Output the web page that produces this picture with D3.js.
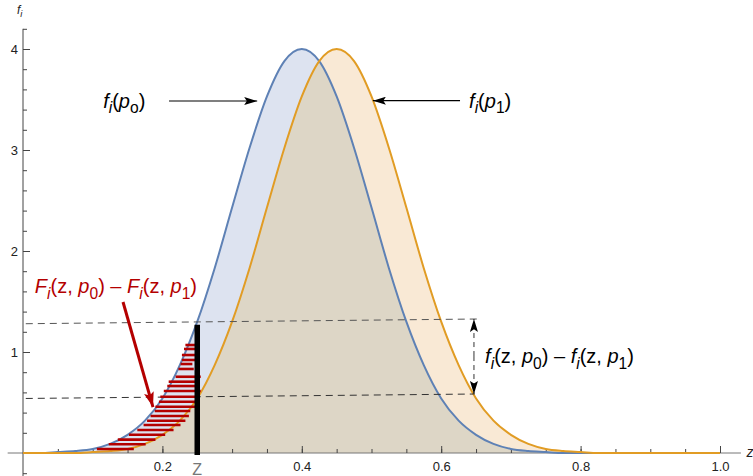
<!DOCTYPE html>
<html>
<head>
<meta charset="utf-8">
<script src="https://cdn.jsdelivr.net/npm/d3@7"></script>
<style>
  body { margin: 0; background: #fff; }
  text { font-family: "Liberation Sans", Arial, sans-serif; white-space: pre; }
</style>
</head>
<body>
<script>
// sample points
var zValues = [0, 0.025, 0.05, 0.075, 0.1, 0.125, 0.15, 0.175, 0.2, 0.225, 0.25, 0.275, 0.3, 0.325,
  0.35, 0.375, 0.4, 0.425, 0.45, 0.475, 0.5, 0.525, 0.55, 0.575, 0.6, 0.625, 0.65, 0.675, 0.7,
  0.725, 0.75, 0.775, 0.8, 0.825, 0.85, 0.875, 0.9, 0.925, 0.95, 0.975, 1];
var f0Values = [0, 0, 0.01, 0.02, 0.04, 0.09, 0.18, 0.32, 0.54, 0.87, 1.30, 1.83, 2.43, 3.02,
  3.53, 3.88, 4.00, 3.88, 3.53, 3.02, 2.43, 1.83, 1.30, 0.87, 0.54, 0.32, 0.18, 0.09, 0.04,
  0.02, 0.01, 0, 0, 0, 0, 0, 0, 0, 0, 0, 0];
var f1Values = [0, 0, 0, 0, 0.01, 0.02, 0.04, 0.09, 0.18, 0.32, 0.54, 0.87, 1.30, 1.83,
  2.43, 3.02, 3.53, 3.88, 4.00, 3.88, 3.53, 3.02, 2.43, 1.83, 1.30, 0.87, 0.54, 0.32, 0.18,
  0.09, 0.04, 0.02, 0.01, 0, 0, 0, 0, 0, 0, 0, 0];

var xMajorTicks = [0.2, 0.4, 0.6, 0.8, 1.0];
var xMinorTicks = d3.range(1, 21).map(function(i) { return i * 0.05; });
var yMajorTicks = [1, 2, 3, 4];
var yMinorTicks = d3.range(-1, 22).map(function(i) { return i * 0.2; });

// hand drawn hatching: [f level, z start, z end]
var hatchLevels = [0.040, 0.086, 0.132, 0.181, 0.228, 0.277, 0.320, 0.366, 0.416, 0.458, 0.508,
  0.557, 0.614, 0.663, 0.706, 0.755, 0.832, 0.881, 0.921, 0.970, 1.030, 1.069];
var hatchStart = [0.106, 0.123, 0.136, 0.152, 0.164, 0.173, 0.178, 0.183, 0.189, 0.190, 0.195,
  0.197, 0.202, 0.207, 0.209, 0.219, 0.223, 0.226, 0.228, 0.228, 0.231, 0.233];
var hatchEnd = [0.159, 0.176, 0.190, 0.204, 0.216, 0.226, 0.233, 0.238, 0.240, 0.247, 0.250,
  0.252, 0.255, 0.252, 0.247, 0.255, 0.245, 0.243, 0.250, 0.247, 0.247, 0.247];

var zCut = 0.25;

d3.select("body").append("svg")
  .attr("width", 753)
  .attr("height", 476);

var svg = d3.select("svg"),
  margin = {
    top: 49,
    right: 33,
    bottom: 23,
    left: 23
  },
  width = +svg.attr("width") - margin.left - margin.right,
  height = +svg.attr("height") - margin.top - margin.bottom,
  g = svg.append("g").attr("transform", "translate(" + margin.left + "," + margin.top + ")");

var x = d3.scaleLinear().domain([0, 1]).range([0, width]);
var y = d3.scaleLinear().domain([0, 4]).range([height, 0]);

var blue = "#5e81b5", orange = "#e19c24", red = "#b40000";

var defs = svg.append("defs");
function marker(id, color, len, wid) {
  defs.append("marker")
    .attr("id", id)
    .attr("markerUnits", "userSpaceOnUse")
    .attr("viewBox", "0 0 " + len + " " + wid)
    .attr("refX", len).attr("refY", wid / 2)
    .attr("markerWidth", len).attr("markerHeight", wid)
    .attr("orient", "auto-start-reverse")
    .append("path")
    .attr("d", "M0,0L" + len + "," + (wid / 2) + "L0," + wid + "L" + (len * 0.2) + "," + (wid / 2) + "Z")
    .attr("fill", color);
}
marker("arrowBlack", "#000", 13, 8);
marker("arrowRed", red, 15, 10);

var pts0 = zValues.map(function(z, i) { return [z, f0Values[i]]; });
var pts1 = zValues.map(function(z, i) { return [z, f1Values[i]]; });

var area = d3.area()
  .x(function(d) { return x(d[0]); })
  .y0(y(0))
  .y1(function(d) { return y(d[1]); })
  .curve(d3.curveMonotoneX);
var line = d3.line()
  .x(function(d) { return x(d[0]); })
  .y(function(d) { return y(d[1]); })
  .curve(d3.curveMonotoneX);

defs.append("clipPath").attr("id", "clip0")
  .append("path").attr("d", area(pts0));

// fills: blue, orange, then their overlap
g.append("path").attr("d", area(pts0)).attr("fill", "#dde3f0");
g.append("path").attr("d", area(pts1)).attr("fill", "#f9e9d5");
g.append("path").attr("clip-path", "url(#clip0)")
  .attr("d", area(pts1)).attr("fill", "#ddd6c6");

// axes
var axisColor = "#444";
g.append("line")
  .attr("x1", x(-0.022)).attr("x2", x(1.03))
  .attr("y1", y(0)).attr("y2", y(0))
  .attr("stroke", "#777").attr("stroke-width", 1);
g.append("line")
  .attr("x1", x(0)).attr("x2", x(0))
  .attr("y1", y(4.2)).attr("y2", height + margin.bottom)
  .attr("stroke", axisColor).attr("stroke-width", 1);

var xMinor = g.append("g").attr("transform", "translate(0," + height + ")")
  .call(d3.axisBottom(x).tickValues(xMinorTicks).tickSizeInner(-4).tickSizeOuter(0).tickFormat(""));
var xMajor = g.append("g").attr("transform", "translate(0," + height + ")")
  .call(d3.axisBottom(x).tickValues(xMajorTicks).tickSizeInner(-7).tickSizeOuter(0)
    .tickPadding(9).tickFormat(d3.format(".1f")));
var yMinor = g.append("g")
  .call(d3.axisLeft(y).tickValues(yMinorTicks).tickSizeInner(-4).tickSizeOuter(0).tickFormat(""));
var yMajor = g.append("g")
  .call(d3.axisLeft(y).tickValues(yMajorTicks).tickSizeInner(-7).tickSizeOuter(0)
    .tickPadding(5).tickFormat(d3.format("d")));
[xMinor, xMajor, yMinor, yMajor].forEach(function(a) {
  a.select(".domain").remove();
  a.selectAll("line").attr("stroke", axisColor);
  a.selectAll("text").attr("font-size", 13).attr("fill", "#222")
    .style("font-family", "'Liberation Sans', Arial, sans-serif");
});

// curves
g.append("path").attr("d", line(pts0)).attr("fill", "none")
  .attr("stroke", blue).attr("stroke-width", 2);
g.append("path").attr("d", line(pts1)).attr("fill", "none")
  .attr("stroke", orange).attr("stroke-width", 2);

// dashed guides
var dashStyle = "7,5";
g.append("line")
  .attr("x1", x(0.004)).attr("y1", y(1.28)).attr("x2", x(0.657)).attr("y2", y(1.327))
  .attr("stroke", "#555").attr("stroke-dasharray", dashStyle);
g.append("line")
  .attr("x1", x(0.004)).attr("y1", y(0.54)).attr("x2", x(0.648)).attr("y2", y(0.584))
  .attr("stroke", "#333").attr("stroke-dasharray", dashStyle);
g.append("line")
  .attr("x1", x(0.647)).attr("y1", y(0.96)).attr("x2", x(0.647)).attr("y2", y(1.327))
  .attr("stroke", "#333").attr("stroke-dasharray", "5,4")
  .attr("marker-end", "url(#arrowBlack)");
g.append("line")
  .attr("x1", x(0.647)).attr("y1", y(0.96)).attr("x2", x(0.647)).attr("y2", y(0.584))
  .attr("stroke", "#333").attr("stroke-dasharray", "5,4")
  .attr("marker-end", "url(#arrowBlack)");

// hatching between the curves
g.selectAll(".hatch")
  .data(hatchLevels)
  .enter().append("line")
  .attr("class", "hatch")
  .attr("x1", function(d, i) { return x(hatchStart[i]); })
  .attr("x2", function(d, i) { return x(hatchEnd[i]); })
  .attr("y1", function(d) { return y(d); })
  .attr("y2", function(d) { return y(d); })
  .attr("stroke", red).attr("stroke-width", 2.6);

// cut at z
g.append("line")
  .attr("x1", x(zCut)).attr("x2", x(zCut))
  .attr("y1", y(-0.02)).attr("y2", y(1.27))
  .attr("stroke", "#000").attr("stroke-width", 5.5);

// arrows to the curves
g.append("line")
  .attr("x1", x(0.2095)).attr("y1", y(3.485)).attr("x2", x(0.336)).attr("y2", y(3.485))
  .attr("stroke", "#000").attr("stroke-width", 1.2).attr("marker-end", "url(#arrowBlack)");
g.append("line")
  .attr("x1", x(0.627)).attr("y1", y(3.488)).attr("x2", x(0.502)).attr("y2", y(3.488))
  .attr("stroke", "#000").attr("stroke-width", 1.2).attr("marker-end", "url(#arrowBlack)");
g.append("line")
  .attr("x1", x(0.1435)).attr("y1", y(1.495)).attr("x2", x(0.1865)).attr("y2", y(0.455))
  .attr("stroke", red).attr("stroke-width", 3).attr("marker-end", "url(#arrowRed)");

function richText(parent, px, py, size, color, parts) {
  var t = parent.append("text")
    .attr("x", px).attr("y", py)
    .attr("font-size", size).attr("fill", color);
  var shift = 0;
  parts.forEach(function(p) {
    var s = t.append("tspan").text(p.t);
    var target = p.sub ? size * 0.28 : 0;
    if (target !== shift) { s.attr("dy", target - shift); shift = target; }
    if (p.sub) s.attr("font-size", size * 0.78);
    if (p.it) s.attr("font-style", "italic");
  });
  return t;
}

richText(g, x(0.115), y(3.42), 20, "#000", [
  {t: "f", it: 1}, {t: "i", it: 1, sub: 1}, {t: "("}, {t: "p", it: 1}, {t: "o", sub: 1}, {t: ")"}]);
richText(g, x(0.640), y(3.42), 20, "#000", [
  {t: "f", it: 1}, {t: "i", it: 1, sub: 1}, {t: "("}, {t: "p", it: 1}, {t: "1", sub: 1}, {t: ")"}]);
richText(g, x(0.663), y(0.89), 20, "#000", [
  {t: "f", it: 1}, {t: "i", it: 1, sub: 1}, {t: "(z, "}, {t: "p", it: 1}, {t: "0", sub: 1},
  {t: ") – "}, {t: "f", it: 1}, {t: "i", it: 1, sub: 1}, {t: "(z, "}, {t: "p", it: 1},
  {t: "1", sub: 1}, {t: ")"}]);
richText(g, x(0.017), y(1.585), 20, red, [
  {t: "F", it: 1}, {t: "i", it: 1, sub: 1}, {t: "(z, "}, {t: "p", it: 1}, {t: "0", sub: 1},
  {t: ") – "}, {t: "F", it: 1}, {t: "i", it: 1, sub: 1}, {t: "(z, "}, {t: "p", it: 1},
  {t: "1", sub: 1}, {t: ")"}]);

// axis names
richText(svg, 17, 14, 12, "#222", [{t: "f", it: 1}, {t: "i", it: 1, sub: 1}]);
svg.append("text").attr("x", margin.left + x(1.038)).attr("y", margin.top + y(-0.04))
  .attr("font-size", 14).attr("font-style", "italic").attr("fill", "#222").text("z");
svg.append("text").attr("x", margin.left + x(zCut)).attr("y", 475)
  .attr("text-anchor", "middle").attr("font-size", 16).attr("fill", "#777").text("Z");
</script>
</body>
</html>
